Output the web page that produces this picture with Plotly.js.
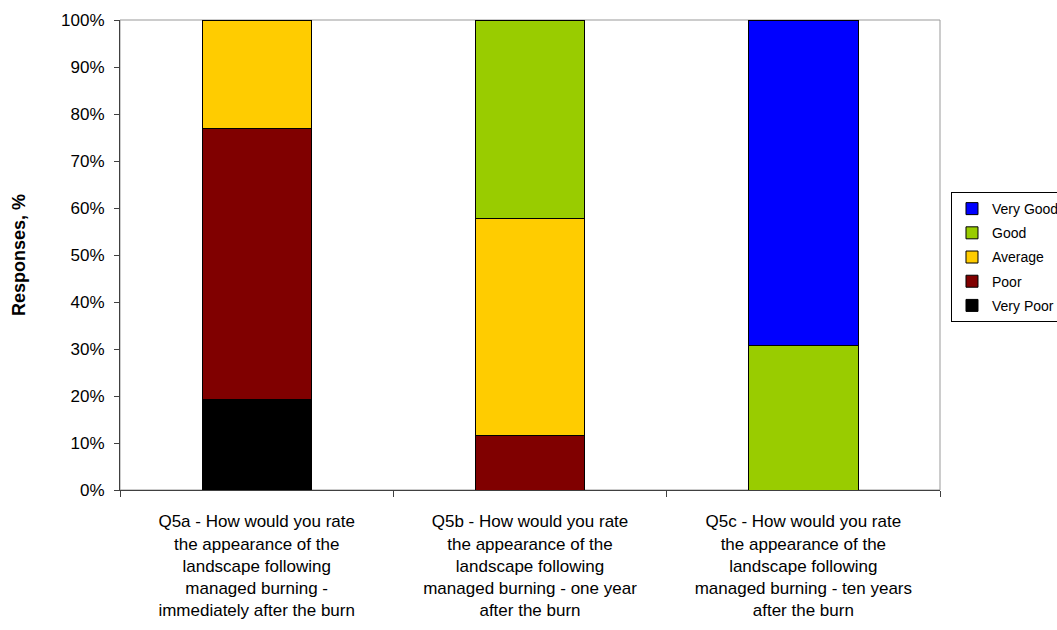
<!DOCTYPE html>
<html>
<head>
<meta charset="utf-8">
<script src="https://cdn.plot.ly/plotly-3.0.1.min.js"></script>
<style>html,body{margin:0;padding:0;background:#fff;}#chart{width:1057px;height:630px;}</style>
</head>
<body>
<div id="chart"></div>
<script>
const categories = [
  "Q5a - How would you rate<br>the appearance of the<br>landscape following<br>managed burning -<br>immediately after the burn",
  "Q5b - How would you rate<br>the appearance of the<br>landscape following<br>managed burning - one year<br>after the burn",
  "Q5c - How would you rate<br>the appearance of the<br>landscape following<br>managed burning - ten years<br>after the burn"
];
const seriesNames = ["Very Poor", "Poor", "Average", "Good", "Very Good"];
const veryPoor = [19.2, null, null];
const poor = [57.7, 11.5, null];
const average = [23.1, 46.2, null];
const good = [null, 42.3, 30.8];
const veryGood = [null, null, 69.2];
const yTicks = [0, 10, 20, 30, 40, 50, 60, 70, 80, 90, 100];

const colors = ["#000000", "#800000", "#FFCC00", "#99CC00", "#0000FF"];
const values = [veryPoor, poor, average, good, veryGood];

const traces = seriesNames.map((n, i) => ({
  type: "bar",
  name: n,
  legendgroup: "g" + i,
  legendrank: 1000 - i,
  x: categories,
  y: values[i],
  width: 0.4,
  marker: {color: colors[i], line: {color: "#000", width: 1}},
  hoverinfo: "name+y"
}));

const FONT = "Arial, 'Liberation Sans', sans-serif";
const layout = {
  width: 1057, height: 630,
  margin: {l: 120, r: 117, t: 20, b: 140, autoexpand: false},
  paper_bgcolor: "#fff", plot_bgcolor: "#fff",
  barmode: "stack",
  font: {family: FONT, color: "#000"},
  showlegend: true,
  legend: {
    x: 1.0134, xanchor: "left", y: 0.634, yanchor: "top",
    bordercolor: "#000", borderwidth: 1, bgcolor: "#fff",
    font: {size: 14, family: FONT},
    itemwidth: 30,
    tracegroupgap: 3,
    traceorder: "grouped"
  },
  xaxis: {
    showline: true, linecolor: "#404040", linewidth: 1,
    ticks: "outside", tickson: "boundaries", ticklen: 6, tickcolor: "#404040",
    tickfont: {size: 17, family: FONT},
    ticklabelstandoff: 16,
    showgrid: false, zeroline: false, automargin: false
  },
  yaxis: {
    range: [0, 100],
    tickvals: yTicks, ticktext: yTicks.map(v => v + "%"),
    showline: true, linecolor: "#404040", linewidth: 1,
    ticks: "outside", ticklen: 5, tickcolor: "#404040",
    tickfont: {size: 17},
    ticklabelstandoff: 6,
    showgrid: false, zeroline: false, automargin: false,
    title: {text: "<b>Responses, %</b>", font: {size: 18}, standoff: 30}
  },
  shapes: [{
    type: "rect", xref: "paper", yref: "paper", x0: 0, x1: 1, y0: 0, y1: 1,
    line: {color: "#999", width: 1}, layer: "below"
  }]
};

Plotly.newPlot("chart", traces, layout, {displayModeBar: false, staticPlot: true});
</script>
</body>
</html>
